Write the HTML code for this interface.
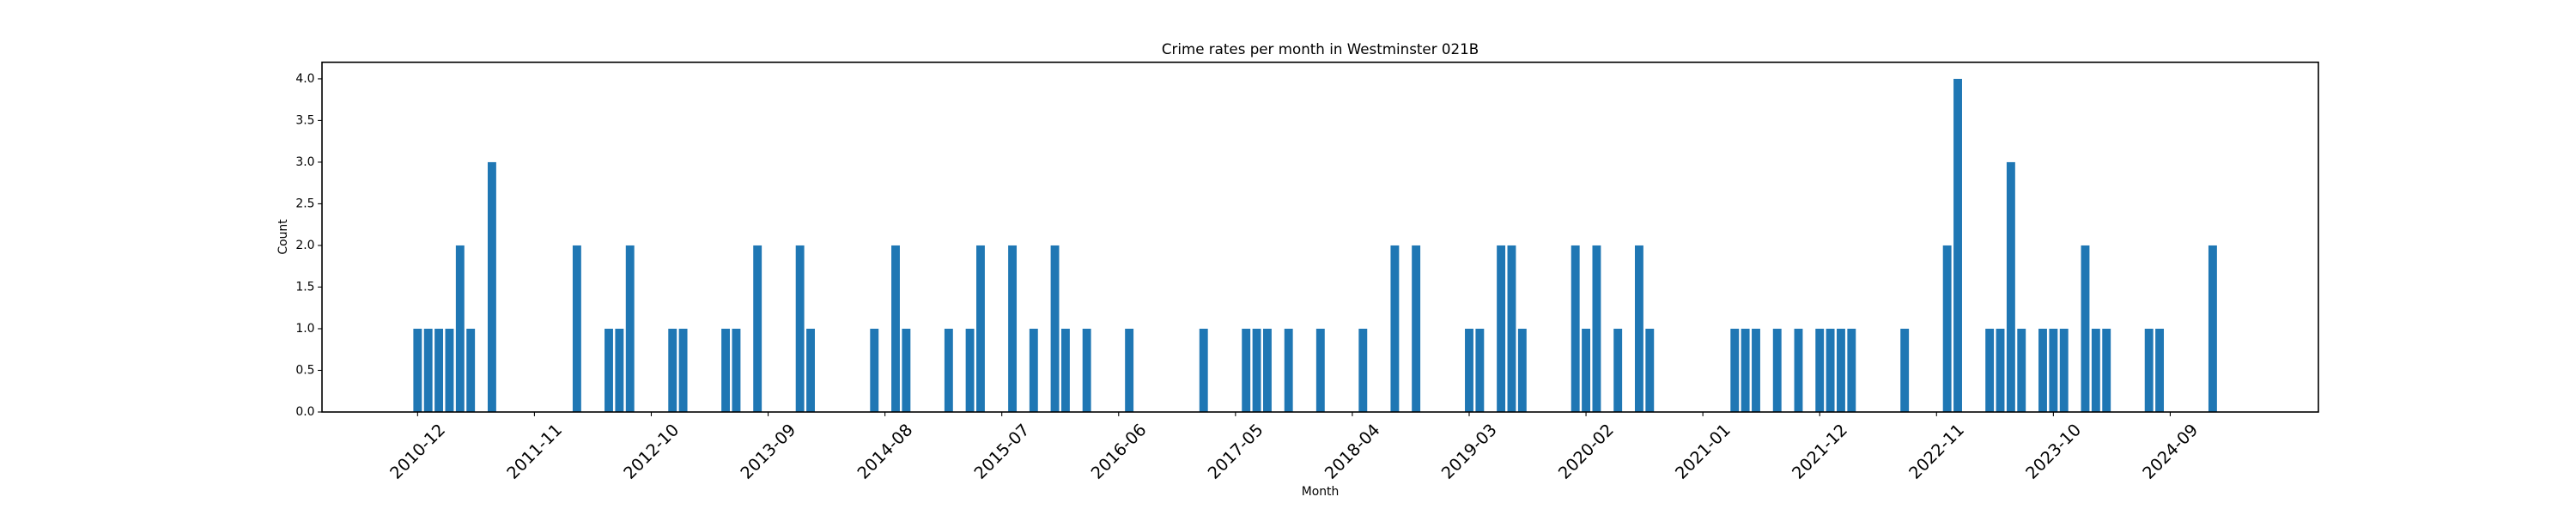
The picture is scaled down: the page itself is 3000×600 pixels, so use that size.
<!DOCTYPE html>
<html>
<head>
<meta charset="utf-8">
<style>
  html, body { margin: 0; padding: 0; background: #ffffff; }
  svg { display: block; font-family: "DejaVu Sans", "Liberation Sans", sans-serif; }
</style>
</head>
<body>
<svg id="chart" width="3000" height="600" viewBox="0 0 3000 600" xmlns="http://www.w3.org/2000/svg">
  <rect x="0" y="0" width="3000" height="600" fill="#ffffff"/>
  <text x="1537.5" y="63" font-size="16.7" text-anchor="middle" fill="#000">Crime rates per month in Westminster 021B</text>
  <text x="1537.5" y="577" font-size="13.9" text-anchor="middle" fill="#000">Month</text>
  <text x="0" y="0" font-size="13.9" text-anchor="middle" fill="#000" transform="translate(334,276) rotate(-90)">Count</text>
  <g id="bars"></g>
  <g id="yaxis"></g>
  <g id="xaxis"></g>
  <rect x="375" y="72.5" width="2325" height="407.5" fill="none" stroke="#000" stroke-width="1.6"/>
</svg>
<script>
// Monthly crime counts starting 2010-12 (one entry per month)
const startYear = 2010;
const startMonth = 12;
const counts = [
  1,1,1,1,2,1,0,3,0,0,
  0,0,0,0,0,2,0,0,1,1,
  2,0,0,0,1,1,0,0,0,1,
  1,0,2,0,0,0,2,1,0,0,
  0,0,0,1,0,2,1,0,0,0,
  1,0,1,2,0,0,2,0,1,0,
  2,1,0,1,0,0,0,1,0,0,
  0,0,0,0,1,0,0,0,1,1,
  1,0,1,0,0,1,0,0,0,1,
  0,0,2,0,2,0,0,0,0,1,
  1,0,2,2,1,0,0,0,0,2,
  1,2,0,1,0,2,1,0,0,0,
  0,0,0,0,1,1,1,0,1,0,
  1,0,1,1,1,1,0,0,0,0,
  1,0,0,0,2,4,0,0,1,1,
  3,1,0,1,1,1,0,2,1,1,
  0,0,0,1,1,0,0,0,0,2
];
const yTicks = [0.0, 0.5, 1.0, 1.5, 2.0, 2.5, 3.0, 3.5, 4.0];
const xTickLabels = ["2010-12","2011-11","2012-10","2013-09","2014-08","2015-07","2016-06","2017-05","2018-04","2019-03","2020-02","2021-01","2021-12","2022-11","2023-10","2024-09"];

const NS = "http://www.w3.org/2000/svg";
const plotLeft = 375, plotRight = 2700, plotTop = 72.5, plotBottom = 480;
const xMin = -9.0, xMax = 178.95;
const yMin = 0, yMax = 4.2;
function xScale(i) { return plotLeft + (i - xMin) / (xMax - xMin) * (plotRight - plotLeft); }
function yScale(v) { return plotBottom - (v - yMin) / (yMax - yMin) * (plotBottom - plotTop); }
function monthLabel(i) {
  const m0 = (startMonth - 1) + i;
  const y = startYear + Math.floor(m0 / 12);
  const m = (m0 % 12) + 1;
  return y + "-" + (m < 10 ? "0" + m : "" + m);
}
function mk(tag, attrs) {
  const el = document.createElementNS(NS, tag);
  for (const k in attrs) el.setAttribute(k, attrs[k]);
  return el;
}

const barsG = document.getElementById("bars");
const bw = 0.8 * (xScale(1) - xScale(0));
counts.forEach(function (v, i) {
  if (v <= 0) return;
  const cx = xScale(i);
  const r = mk("rect", {x: cx - bw / 2, y: yScale(v), width: bw, height: yScale(0) - yScale(v), fill: "#1f77b4"});
  
  
  barsG.appendChild(r);
});

const yG = document.getElementById("yaxis");
yTicks.forEach(function (t) {
  const y = yScale(t);
  const ln = mk("line", {x1: plotLeft - 4.9, x2: plotLeft, y1: y, y2: y, stroke: "#000", "stroke-width": 1.1});
  
  
  yG.appendChild(ln);
  const tx = mk("text", {x: plotLeft - 8.5, y: y, "font-size": 13.9, "text-anchor": "end", "dominant-baseline": "central", fill: "#000"});
  tx.textContent = t.toFixed(1);
  
  
  yG.appendChild(tx);
});

const xG = document.getElementById("xaxis");
xTickLabels.forEach(function (lab, k) {
  const i = k * 11;
  const x = xScale(i);
  const ln = mk("line", {x1: x, x2: x, y1: plotBottom, y2: plotBottom + 4.9, stroke: "#000", "stroke-width": 1.1});
  
  
  xG.appendChild(ln);
  const cy = 526;
  const tx = mk("text", {x: x, y: cy, "font-size": 19.4, "text-anchor": "middle", "dominant-baseline": "central", fill: "#000", transform: "rotate(-45 " + x + " " + cy + ")"});
  tx.textContent = lab;
  
  
  xG.appendChild(tx);
});
</script>
</body>
</html>
